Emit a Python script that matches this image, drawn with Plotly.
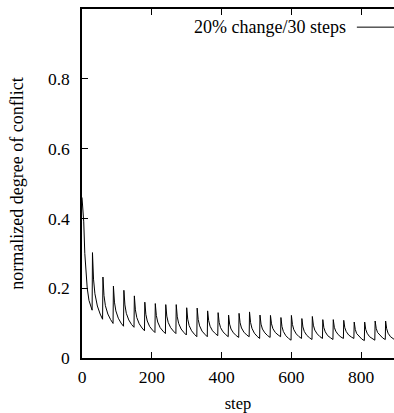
import plotly.graph_objects as go

# ---- data ----
# initial transient (steps 0..29)
start_steps = [0, 2, 5, 8, 11, 15, 20, 25]
start_vals = [0.46, 0.43, 0.39, 0.30, 0.25, 0.20, 0.165, 0.145]

# every 30 steps a 20% change produces a spike
spike_steps = list(range(30, 900, 30))  # 30 .. 870
troughs = [0.137, 0.111, 0.099, 0.091, 0.088, 0.078, 0.073, 0.070, 0.070, 0.066,
           0.061, 0.061, 0.064, 0.061, 0.059, 0.061, 0.056, 0.059, 0.061, 0.051,
           0.056, 0.053, 0.056, 0.053, 0.056, 0.056, 0.050, 0.051, 0.053]
peaks = [0.302, 0.232, 0.206, 0.194, 0.178, 0.160, 0.156, 0.153, 0.153, 0.144,
         0.143, 0.135, 0.130, 0.123, 0.128, 0.132, 0.123, 0.122, 0.116, 0.122,
         0.113, 0.119, 0.110, 0.110, 0.108, 0.103, 0.103, 0.106, 0.106]
after3 = [0.226, 0.179, 0.160, 0.152, 0.138, 0.125, 0.122, 0.120, 0.118, 0.111,
          0.110, 0.107, 0.102, 0.097, 0.101, 0.102, 0.097, 0.098, 0.090, 0.096,
          0.089, 0.094, 0.087, 0.088, 0.087, 0.082, 0.082, 0.085, 0.084]
after7 = [0.184, 0.150, 0.135, 0.128, 0.116, 0.106, 0.103, 0.102, 0.099, 0.093,
          0.092, 0.091, 0.087, 0.083, 0.086, 0.085, 0.083, 0.084, 0.076, 0.081,
          0.076, 0.080, 0.075, 0.077, 0.076, 0.070, 0.071, 0.073, 0.071]
after14 = [0.149, 0.126, 0.114, 0.109, 0.098, 0.090, 0.087, 0.087, 0.083, 0.078,
           0.077, 0.078, 0.075, 0.072, 0.074, 0.071, 0.072, 0.073, 0.064, 0.069,
           0.065, 0.069, 0.064, 0.067, 0.066, 0.061, 0.061, 0.064, 0.061]
after22 = [0.126, 0.110, 0.100, 0.096, 0.086, 0.080, 0.077, 0.077, 0.073, 0.068,
           0.068, 0.070, 0.067, 0.064, 0.066, 0.062, 0.064, 0.066, 0.056, 0.061,
           0.058, 0.061, 0.058, 0.060, 0.060, 0.054, 0.055, 0.057, 0.054]
end_step, end_val = 899, 0.050

x_ticks = [0, 200, 400, 600, 800]
y_ticks = [0, 0.2, 0.4, 0.6, 0.8, 1]
y_labels = ["0", "0.2", "0.4", "0.6", "0.8", "1"]

# ---- build the series ----
xs = list(start_steps)
ys = list(start_vals)
for i, s in enumerate(spike_steps):
    xs += [s - 1, s, s + 3, s + 7, s + 14, s + 22]
    ys += [troughs[i], peaks[i], after3[i], after7[i], after14[i], after22[i]]
xs.append(end_step)
ys.append(end_val)

FONT = "Liberation Serif"

fig = go.Figure()
fig.add_trace(go.Scatter(x=xs, y=ys, mode="lines",
                         line=dict(color="black", width=1),
                         name="20% change/30 steps", showlegend=False))

fig.update_layout(
    width=394, height=413,
    margin=dict(l=82, r=0, t=9, b=55),
    paper_bgcolor="white", plot_bgcolor="white",
    font=dict(family=FONT, size=17.5, color="black"),
    showlegend=False,
)
fig.update_xaxes(
    range=[0, 894], tickvals=x_ticks, ticks="inside", ticklen=6,
    tickwidth=1, tickcolor="black", showline=True, linecolor="black",
    linewidth=1.5, mirror="ticks", showgrid=False, zeroline=False,
    title=dict(text="step", standoff=12, font=dict(family=FONT, size=16.5)),
    ticklabelstandoff=2, tickfont=dict(family=FONT, size=17.5),
)
fig.update_yaxes(
    range=[0, 1], tickvals=y_ticks, ticktext=y_labels, ticks="inside",
    ticklen=6, tickwidth=1, tickcolor="black", showline=True,
    linecolor="black", linewidth=1.5, mirror=False, showgrid=False,
    zeroline=False,
    title=dict(text="normalized degree of conflict", standoff=20,
               font=dict(family=FONT, size=18)),
    ticklabelstandoff=7, tickfont=dict(family=FONT, size=17.5),
)

# legend drawn as in the reference: text on the left, line sample on the right
fig.add_annotation(x=0.8526, y=0.948, xref="paper", yref="paper",
                   text="20% change/30 steps", showarrow=False,
                   xanchor="right", yanchor="middle",
                   font=dict(family=FONT, size=18, color="black"))
fig.add_shape(type="line", xref="paper", yref="paper",
              x0=0.881, x1=1.05, y0=0.948, y1=0.948,
              line=dict(color="black", width=1))

fig.write_html("out.html")
